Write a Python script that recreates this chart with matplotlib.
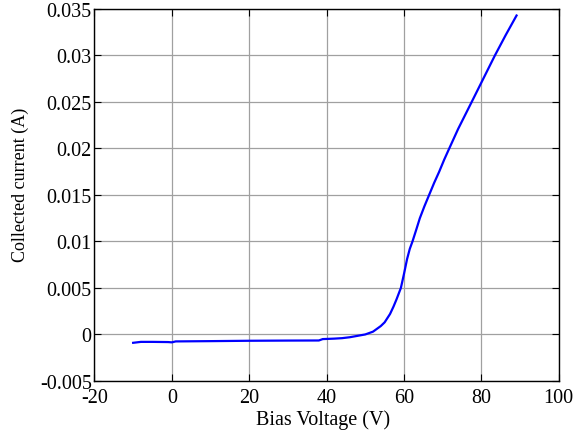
import matplotlib
matplotlib.use('Agg')
import matplotlib.pyplot as plt
import numpy as np

# bias sweep (V) and collected current (A)
bias_v = [-10, -8, -5, -1, 0, 1, 10, 20, 30, 38, 39, 42, 44, 46, 48, 50,
          52, 54, 55, 56.4, 57.3, 58.1, 59.2, 60, 60.8, 61.5, 62.2, 63.2,
          64.1, 65.3, 66.5, 67.8, 69.1, 70.4, 71.7, 74, 77.5, 80.5, 83.5,
          86.3, 89.1]
current_a = [-0.0009, -0.0008, -0.0008, -0.00082, -0.00085, -0.00075,
             -0.00072, -0.00068, -0.00066, -0.00065, -0.0005, -0.00045,
             -0.0004, -0.0003, -0.00015, 0.0, 0.0003, 0.0009, 0.0013, 0.0022,
             0.003, 0.0038, 0.005, 0.0065, 0.0081, 0.0092, 0.010, 0.0113,
             0.0125, 0.0138, 0.015, 0.0163, 0.0175, 0.0188, 0.020, 0.0221,
             0.025, 0.0275, 0.030, 0.0322, 0.0343]

x_ticks = [-20, 0, 20, 40, 60, 80, 100]
y_ticks = [-0.005, 0, 0.005, 0.01, 0.015, 0.02, 0.025, 0.03, 0.035]
y_labels = ['-0.005', '0', '0.005', '0.01', '0.015', '0.02', '0.025', '0.03', '0.035']

plt.rcParams['font.family'] = ['Liberation Serif', 'DejaVu Serif']
plt.rcParams['font.size'] = 14.5
plt.rcParams['axes.unicode_minus'] = False

fig = plt.figure(figsize=(5.76, 4.35), dpi=100)
ax = fig.add_axes([0.164, 0.122, 0.806, 0.855])
ax.plot(bias_v, current_a, color='#0000ff', lw=1.6)

ax.set_xlim(-20, 100)
ax.set_ylim(-0.005, 0.035)
ax.set_xticks(x_ticks)
ax.set_xticklabels([str(t) for t in x_ticks])
ax.set_yticks(y_ticks)
ax.set_yticklabels(y_labels)
ax.tick_params(direction='in', length=5, width=0.8, top=True, right=True)
ax.tick_params(axis='y', pad=2)
ax.tick_params(axis='x', pad=5)
ax.grid(True, color='#a0a0a0', lw=0.9)
for s in ax.spines.values():
    s.set_linewidth(1.0)

ax.set_xlabel('Bias Voltage (V)')
ax.xaxis.set_label_coords(0.493, -0.103)
ax.set_ylabel('Collected current (A)', fontsize=13)
ax.yaxis.set_label_coords(-0.16, 0.53)
ax.xaxis.label.set_va('center')
ax.yaxis.label.set_va('center')

fig.savefig('out.png', dpi=100)
